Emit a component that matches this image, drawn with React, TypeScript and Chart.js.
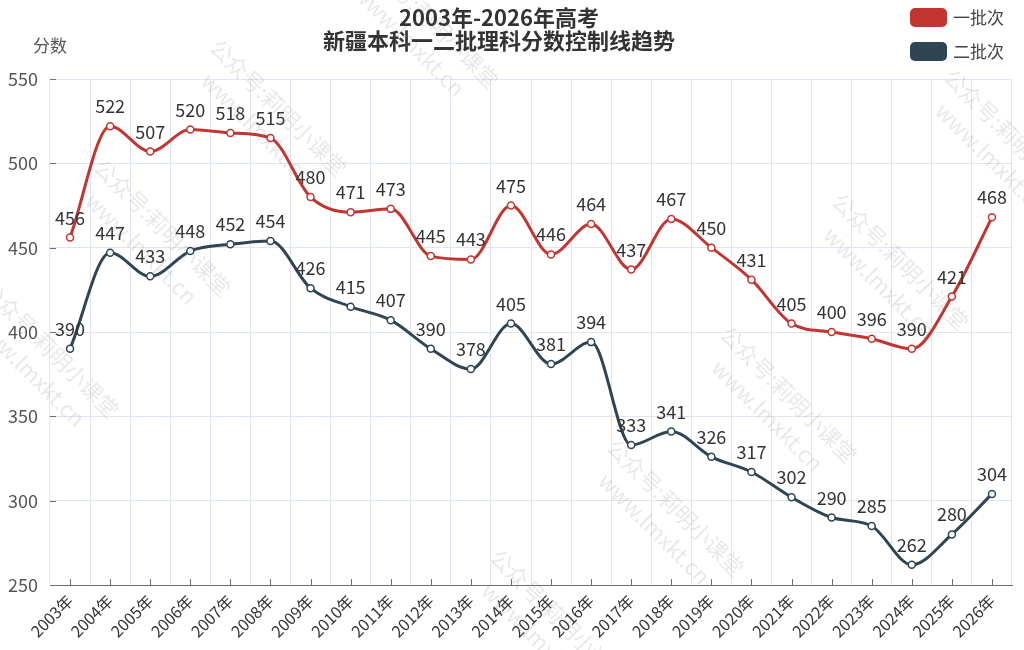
import React, { useEffect, useRef } from 'react';
import { Chart, registerables } from 'chart.js';

Chart.register(...registerables);

const years = [
  '2003年', '2004年', '2005年', '2006年', '2007年', '2008年', '2009年', '2010年',
  '2011年', '2012年', '2013年', '2014年', '2015年', '2016年', '2017年', '2018年',
  '2019年', '2020年', '2021年', '2022年', '2023年', '2024年', '2025年', '2026年',
];
const batch1 = [456, 522, 507, 520, 518, 515, 480, 471, 473, 445, 443, 475, 446, 464, 437, 467, 450, 431, 405, 400, 396, 390, 421, 468];
const batch2 = [390, 447, 433, 448, 452, 454, 426, 415, 407, 390, 378, 405, 381, 394, 333, 341, 326, 317, 302, 290, 285, 262, 280, 304];
const seriesNames = ['一批次', '二批次'];
const seriesColors = ['#c23531', '#2f4554'];
const yMin = 250;
const yMax = 550;
const yStep = 50;
const titleLines = ['2003年-2026年高考', '新疆本科一二批理科分数控制线趋势'];
const yAxisName = '分数';
const watermarkLines = ['公众号:莉明小课堂', 'www.lmxkt.cn'];

const FONT = "'Noto Sans CJK SC', 'Noto Sans', sans-serif";

const decorPlugin = {
  id: 'decor',
  beforeDatasetsDraw(chart: any) {
    const ctx = chart.ctx;
    const xs = chart.scales.x;
    const ys = chart.scales.y;
    const area = chart.chartArea;
    ctx.save();
    ctx.strokeStyle = '#6e7079';
    ctx.lineWidth = 1;
    ctx.beginPath();
    for (let i = 0; i < chart.data.labels.length; i++) {
      const px = Math.round(xs.getPixelForTick(i)) + 0.5;
      ctx.moveTo(px, area.bottom);
      ctx.lineTo(px, area.bottom - 6);
    }
    ys.ticks.forEach((t: any) => {
      const py = Math.round(ys.getPixelForValue(t.value)) + 0.5;
      ctx.moveTo(area.left, py);
      ctx.lineTo(area.left + 6, py);
    });
    ctx.stroke();
    ctx.restore();
  },
  afterDatasetsDraw(chart: any) {
    const ctx = chart.ctx;
    ctx.save();
    ctx.font = `18px ${FONT}`;
    ctx.fillStyle = '#333';
    ctx.textAlign = 'center';
    ctx.textBaseline = 'alphabetic';
    chart.data.datasets.forEach((ds: any, di: number) => {
      const meta = chart.getDatasetMeta(di);
      meta.data.forEach((pt: any, i: number) => {
        ctx.fillText(String(ds.data[i]), pt.x, pt.y - 13);
      });
    });
    ctx.restore();
  },
  afterDraw(chart: any) {
    const ctx = chart.ctx;
    ctx.save();
    // title
    ctx.fillStyle = '#333';
    ctx.textAlign = 'center';
    ctx.textBaseline = 'middle';
    ctx.font = `bold 22px ${FONT}`;
    ctx.fillText(titleLines[0], 499, 18);
    ctx.fillText(titleLines[1], 499, 41);
    // y axis name
    ctx.font = `17px ${FONT}`;
    ctx.fillStyle = '#555';
    ctx.fillText(yAxisName, 50, 46);
    // legend
    chart.data.datasets.forEach((ds: any, di: number) => {
      const top = 8 + di * 34;
      ctx.fillStyle = ds.borderColor;
      ctx.beginPath();
      (ctx as any).roundRect(910, top, 37, 19, 5);
      ctx.fill();
      ctx.fillStyle = '#444';
      ctx.textAlign = 'left';
      ctx.textBaseline = 'middle';
      ctx.font = `17px ${FONT}`;
      ctx.fillText(ds.label, 953, top + 10);
    });
    // watermarks
    const centers = [
      [420, 30], [268, 118], [152, 238], [40, 360],
      [1002, 148], [890, 272], [778, 405], [665, 518], [548, 628],
    ];
    ctx.fillStyle = 'rgba(120,120,120,0.17)';
    ctx.textAlign = 'center';
    ctx.textBaseline = 'middle';
    ctx.font = `22px ${FONT}`;
    centers.forEach(([cx, cy]) => {
      ctx.save();
      ctx.translate(cx, cy);
      ctx.rotate(Math.PI / 4);
      ctx.fillText(watermarkLines[0], 0, -15);
      ctx.fillText(watermarkLines[1], 0, 15);
      ctx.restore();
    });
    ctx.restore();
  },
};

export default function App() {
  const canvasRef = useRef<HTMLCanvasElement | null>(null);

  useEffect(() => {
    if (!canvasRef.current) return;
    const chart = new Chart(canvasRef.current, {
      type: 'line',
      data: {
        labels: years,
        datasets: [batch1, batch2].map((d, i) => ({
          label: seriesNames[i],
          data: d,
          borderColor: seriesColors[i],
          backgroundColor: '#fff',
          pointBackgroundColor: '#fff',
          pointBorderColor: seriesColors[i],
          pointRadius: 3.5,
          pointBorderWidth: 1.5,
          borderWidth: 3,
          cubicInterpolationMode: 'monotone',
          fill: false,
        })),
      },
      options: {
        responsive: false,
        animation: false,
        layout: { padding: { top: 79, right: 12, left: 0, bottom: 0 } },
        plugins: {
          legend: { display: false },
          title: { display: false },
          tooltip: { enabled: false },
        },
        scales: {
          x: {
            offset: true,
            grid: { offset: true, color: '#e0e6f1', drawTicks: false },
            border: { color: '#6e7079', width: 1 },
            ticks: {
              autoSkip: false,
              maxRotation: 45,
              minRotation: 45,
              color: '#333',
              padding: 6,
              font: { family: FONT, size: 16 },
            },
            afterFit: (s: any) => { s.height = 65; },
          },
          y: {
            min: yMin,
            max: yMax,
            ticks: {
              stepSize: yStep,
              color: '#555',
              padding: 12,
              font: { family: FONT, size: 18 },
            },
            grid: { color: '#e0e6f1', drawTicks: false },
            border: { display: false },
            afterFit: (s: any) => { s.width = 50; },
          },
        },
      } as any,
      plugins: [decorPlugin],
    });
    return () => chart.destroy();
  }, []);

  return (
    <div style={{ position: 'fixed', left: 0, top: 0, width: 1024, height: 650, background: '#fff' }}>
      <canvas ref={canvasRef} width={1024} height={650} style={{ width: 1024, height: 650 }} />
    </div>
  );
}
